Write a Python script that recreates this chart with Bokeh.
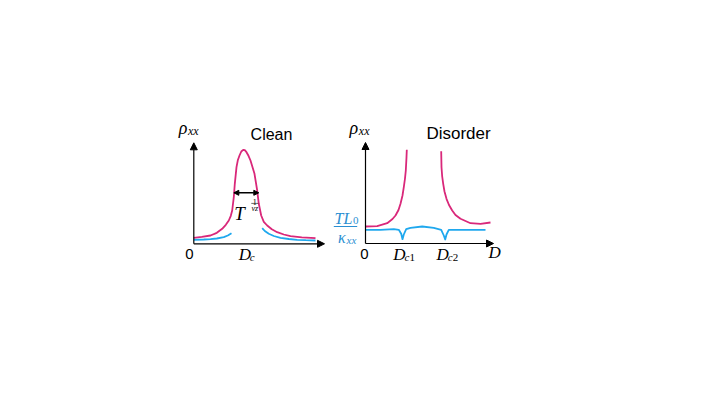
from bokeh.plotting import figure
from bokeh.models import Arrow, NormalHead, Label, Spacer, Range1d
from bokeh.layouts import row, column
from bokeh.embed import file_html
from bokeh.resources import INLINE

PINK = "#D9287A"
BLUE = "#1FA8EE"
TXTBLUE = "#2B8FD2"

# ---- Clean panel data (D, rho in panel units; origin at axis crossing)
clean_rho_D = [0, 8, 16.7, 23, 28.4, 32, 35, 37, 38.4, 40, 41, 42.7, 44, 45.7, 47.5, 49.4, 51,
               52.7, 54.7, 56.7, 60.7, 63.4, 65, 67.4, 70, 73.4, 78, 83.4, 90, 96.7, 108, 121.7]
clean_rho_v = [6, 7, 8.3, 11, 15, 19, 23.3, 28, 33.3, 46.6, 60, 76.6, 83.5, 88.3, 92.3, 94, 93.6,
               91.6, 88, 83.3, 70, 53.3, 40, 28.3, 22, 18.3, 14.5, 11.6, 9.3, 7.6, 6.5, 5.6]
clean_kap_left_D = [0, 10, 16.7, 23, 30, 34, 37.7]
clean_kap_left_v = [4, 4.3, 4.6, 5.3, 6.6, 8.3, 10.6]
clean_kap_right_D = [68.4, 71, 75, 80, 86.7, 95, 103.4, 112, 121.7]
clean_kap_right_v = [15.6, 12.8, 10, 7.8, 6, 4.8, 4, 3.6, 3.3]
clean_width = [40, 65]        # width arrow ends
clean_width_level = 51

# ---- Disorder panel data
dis_rho_left_D = [0, 11.7, 21.7, 27, 30, 33, 35, 37, 38.3, 39.5, 40.3, 41, 41.3]
dis_rho_left_v = [17, 17.3, 20.3, 24.5, 28, 33.5, 39.7, 48, 56.3, 65, 73, 86.3, 93.7]
dis_rho_right_D = [75.7, 76, 76.7, 77.7, 79, 81, 83.5, 86.7, 90, 95, 105, 115, 125]
dis_rho_right_v = [92.3, 76.3, 67, 59.7, 52, 44.7, 38.5, 33, 28.5, 24.7, 20.3, 19.7, 21]
dis_kap_D = [0, 15, 28.3, 33.3, 35.7, 37, 38.3, 40.7, 45, 56.7, 68.3, 75.7, 78.3, 79.7,
             81, 83.3, 95, 120]
dis_kap_v = [13.7, 13.7, 14.3, 13.7, 9.7, 4.3, 9, 14.3, 15.7, 17, 15.7, 13.7, 8, 4,
             9, 13.7, 13.7, 13.7]

DY = 4.5  # text baseline correction


def base_fig(w, h, xr, yr):
    p = figure(width=w, height=h, x_range=Range1d(*xr), y_range=Range1d(*yr),
               output_backend="svg", toolbar_location=None, min_border=0,
               x_axis_location=None, y_axis_location=None,
               background_fill_color="white", border_fill_color="white",
               outline_line_color=None)
    p.grid.visible = False
    return p


def axes(p, xlen, ylen):
    p.add_layout(Arrow(end=NormalHead(size=7, fill_color="black", line_color="black"),
                       x_start=0, y_start=0, x_end=xlen, y_end=0,
                       line_width=1.2, line_color="black"))
    p.add_layout(Arrow(end=NormalHead(size=7, fill_color="black", line_color="black"),
                       x_start=0, y_start=0, x_end=0, y_end=ylen,
                       line_width=1.2, line_color="black"))


def lab(p, x, y, text, size, font="Liberation Serif", style="italic", color="black",
        align="left"):
    p.add_layout(Label(x=x, y=y + DY, text=text, text_font=font, text_font_size=size,
                       text_font_style=style, text_color=color, text_align=align,
                       text_baseline="alphabetic"))


# ---------------- Left (Clean) ----------------
p1 = base_fig(178, 160, (-43.3, 134.7), (-26.7, 133.3))
axes(p1, 130.7, 101)
p1.line(clean_rho_D, clean_rho_v, line_color=PINK, line_width=1.8, line_join="round")
p1.line(clean_kap_left_D, clean_kap_left_v, line_color=BLUE, line_width=1.8)
p1.line(clean_kap_right_D, clean_kap_right_v, line_color=BLUE, line_width=1.8)
p1.add_layout(Arrow(start=NormalHead(size=5, fill_color="black", line_color="black"),
                    end=NormalHead(size=5, fill_color="black", line_color="black"),
                    x_start=clean_width[0], y_start=clean_width_level,
                    x_end=clean_width[1], y_end=clean_width_level,
                    line_width=1.4, line_color="black"))
lab(p1, -15, 111.5, "ρ", "18px")
lab(p1, -5.8, 108.5, "xx", "12px")
lab(p1, 77.7, 105, "Clean", "16px", font="Liberation Sans", style="normal", align="center")
lab(p1, -4.3, -15, "0", "15px", font="Liberation Sans", style="normal", align="center")
lab(p1, 45, -15.2, "D", "17px")
lab(p1, 56, -17.5, "c", "11px")
lab(p1, 40.5, 25.5, "T", "19px")
lab(p1, 61, 37.3, "1", "8px", style="normal", align="center")
p1.line([57.5, 64.5], [40.4, 40.4], line_color="black", line_width=0.6)
lab(p1, 61, 31.2, "νz", "8px", align="center")

# ---------------- Right (Disorder) ----------------
p2 = base_fig(184, 160, (-37, 147), (-27, 133))
axes(p2, 128, 101)
p2.line(dis_rho_left_D, dis_rho_left_v, line_color=PINK, line_width=1.8, line_join="round")
p2.line(dis_rho_right_D, dis_rho_right_v, line_color=PINK, line_width=1.8, line_join="round")
p2.line(dis_kap_D, dis_kap_v, line_color=BLUE, line_width=1.8, line_join="round")
lab(p2, -16, 111.5, "ρ", "18px")
lab(p2, -6.7, 108.5, "xx", "12px")
lab(p2, 93, 105.7, "Disorder", "17px", font="Liberation Sans", style="normal", align="center")
lab(p2, -1, -15.3, "0", "15px", font="Liberation Sans", style="normal", align="center")
lab(p2, 27.7, -15.5, "D", "17px")
lab(p2, 39, -18, "c", "11px")
lab(p2, 44, -18, "1", "11px", style="normal")
lab(p2, 71, -15.5, "D", "17px")
lab(p2, 82.3, -18, "c", "11px")
lab(p2, 87.3, -18, "2", "11px", style="normal")
lab(p2, 123, -13.7, "D", "17px")
lab(p2, -31, 20.5, "TL", "16px", color=TXTBLUE)
lab(p2, -12.5, 18.5, "0", "11px", style="normal", color=TXTBLUE)
p2.line([-31.7, -8.3], [17, 17], line_color=TXTBLUE, line_width=1.2)
lab(p2, -27.5, 2, "κ", "16px", color=TXTBLUE)
lab(p2, -19, -0.5, "xx", "11px", color=TXTBLUE)

layout = column(Spacer(height=110), row(Spacer(width=150), p1, p2))
open("out.html", "w").write(file_html(layout, INLINE))
